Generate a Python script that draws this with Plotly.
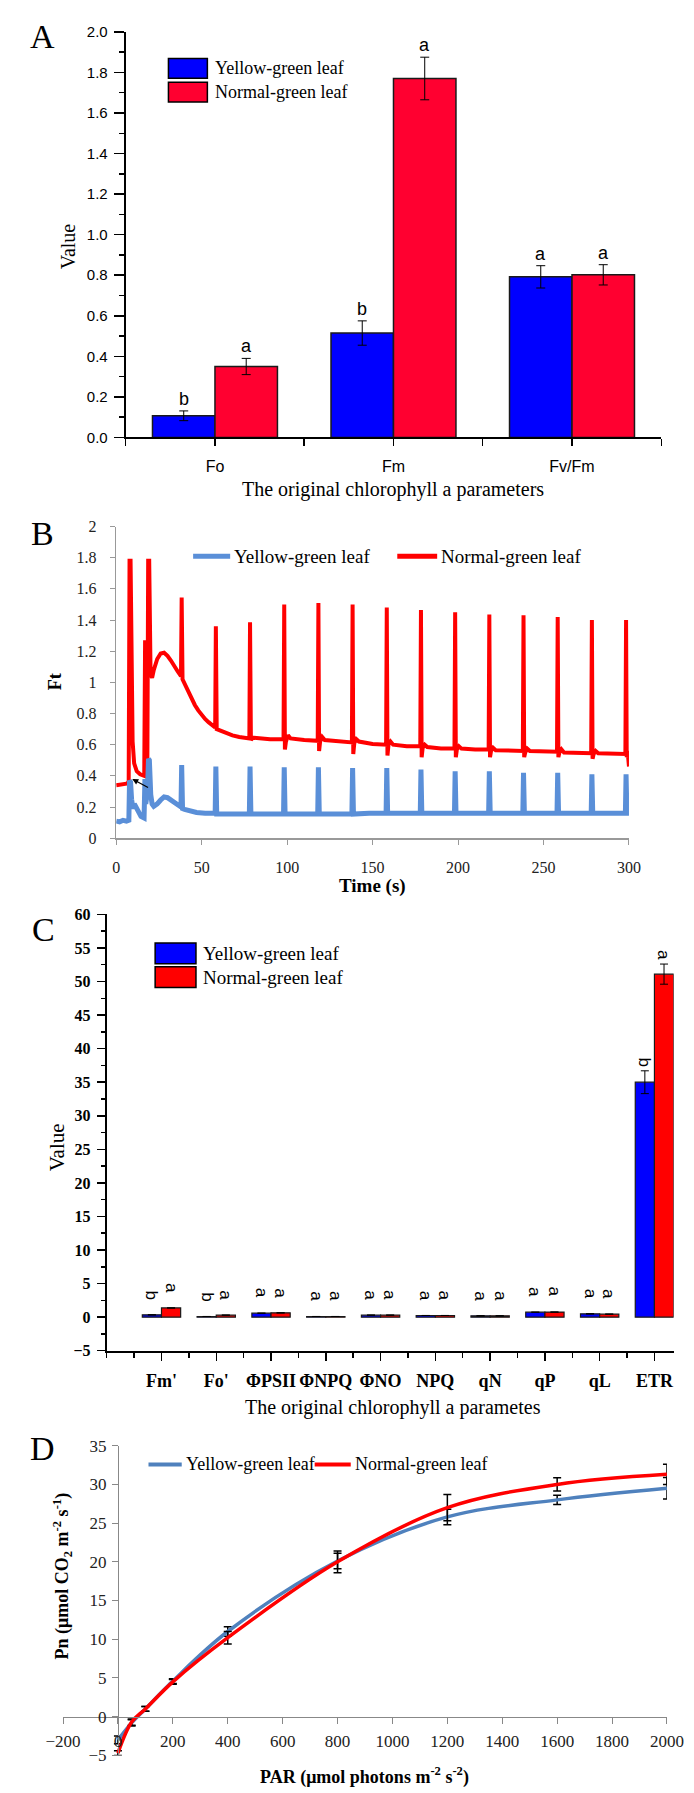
import plotly.graph_objects as go

W, H = 694, 1793
SERIF = "Liberation Serif, Times New Roman, serif"
SANS = "Liberation Sans, Arial, sans-serif"

# ---------------- Panel A data ----------------
a_params = ["Fo", "Fm", "Fv/Fm"]
a_yellow = [0.107, 0.515, 0.792]
a_yellow_err = [0.024, 0.060, 0.055]
a_normal = [0.350, 1.770, 0.802]
a_normal_err = [0.040, 0.105, 0.050]
a_yellow_sig = ["b", "b", "a"]
a_normal_sig = ["a", "a", "a"]

# ---------------- Panel B data (time s, Ft) ----------------
b_normal_points = [
    (0, 0.34), (2, 0.345), (4, 0.35), (6, 0.35), (7.3, 0.36), (7.8, 1.78), (8.4, 1.78),
    (9.0, 1.00), (9.6, 0.62), (10.5, 0.48), (12, 0.43), (14, 0.41), (16.4, 0.40),
    (16.9, 1.27), (17.4, 0.42), (18.2, 0.42), (18.7, 1.78), (19.3, 1.78), (20.1, 1.05),
    (21, 1.03), (22, 1.08), (24, 1.15), (26, 1.185), (28, 1.19), (30, 1.17), (32, 1.14),
    (34, 1.11), (36, 1.07), (37.9, 1.04), (38.3, 1.545), (38.8, 1.02), (40, 0.99),
    (42, 0.94), (44, 0.895), (46, 0.855), (48, 0.82), (50, 0.79), (52, 0.765),
    (54, 0.745), (56, 0.725), (57.9, 0.71), (58.3, 1.36), (58.8, 0.70), (61, 0.69),
    (64, 0.675), (68, 0.66), (72, 0.65), (77.9, 0.64), (78.3, 1.385), (78.8, 0.63),
    (80, 0.645), (85, 0.64), (90, 0.635), (97.9, 0.635), (98.3, 1.50), (98.7, 0.57),
    (99.3, 0.62), (100.5, 0.66), (102, 0.64), (110, 0.63), (117.9, 0.625), (118.3, 1.51),
    (118.7, 0.56), (119.3, 0.62), (120.5, 0.65), (122, 0.63), (130, 0.62), (137.9, 0.615),
    (138.3, 1.50), (138.7, 0.54), (139.3, 0.61), (140.5, 0.635), (142, 0.62), (150, 0.605),
    (157.9, 0.60), (158.3, 1.48), (158.7, 0.53), (159.3, 0.60), (160.5, 0.62), (162, 0.60),
    (170, 0.59), (177.9, 0.59), (178.3, 1.465), (178.7, 0.52), (179.3, 0.58), (180.5, 0.60),
    (182, 0.585), (190, 0.575), (197.9, 0.575), (198.3, 1.45), (198.7, 0.52), (199.3, 0.57),
    (200.5, 0.59), (202, 0.575), (210, 0.57), (217.9, 0.57), (218.3, 1.435), (218.7, 0.52),
    (219.3, 0.56), (220.5, 0.58), (222, 0.565), (230, 0.56), (237.9, 0.56), (238.3, 1.43),
    (238.7, 0.52), (239.3, 0.55), (240.5, 0.575), (242, 0.56), (250, 0.555), (257.9, 0.555),
    (258.3, 1.42), (258.7, 0.52), (259.3, 0.55), (260.5, 0.57), (262, 0.55), (270, 0.545),
    (277.9, 0.545), (278.3, 1.40), (278.7, 0.51), (279.3, 0.54), (280.5, 0.56), (282, 0.545),
    (290, 0.54), (297.9, 0.54), (298.3, 1.40), (298.7, 0.52), (299.2, 0.56), (300, 0.46),
]
b_yellow_points = [
    (0, 0.11), (2, 0.105), (4, 0.115), (6, 0.11), (7.4, 0.115), (7.8, 0.37), (8.4, 0.36),
    (9.0, 0.25), (9.8, 0.19), (10.6, 0.22), (11.5, 0.20), (13, 0.16), (14.5, 0.14),
    (16.3, 0.13), (16.8, 0.38), (17.3, 0.22), (18.3, 0.30), (18.9, 0.51), (19.4, 0.50),
    (20.2, 0.28), (21, 0.22), (22, 0.205), (24, 0.22), (26, 0.245), (28, 0.265), (30, 0.26),
    (32, 0.245), (34, 0.23), (36, 0.21), (37.9, 0.20), (38.3, 0.47), (38.8, 0.19),
    (40, 0.185), (43, 0.175), (47, 0.165), (52, 0.16), (57.9, 0.16), (58.3, 0.46),
    (58.8, 0.155), (68, 0.155), (77.9, 0.155), (78.3, 0.46), (78.8, 0.155), (88, 0.155),
    (97.9, 0.155), (98.3, 0.455), (98.8, 0.155), (108, 0.155), (117.9, 0.155), (118.3, 0.455),
    (118.8, 0.155), (128, 0.155), (137.9, 0.155), (138.3, 0.45), (138.8, 0.155), (148, 0.16),
    (157.9, 0.16), (158.3, 0.45), (158.8, 0.16), (168, 0.16), (177.9, 0.16), (178.3, 0.44),
    (178.8, 0.16), (188, 0.16), (197.9, 0.16), (198.3, 0.43), (198.8, 0.16), (208, 0.16),
    (217.9, 0.16), (218.3, 0.43), (218.8, 0.16), (228, 0.16), (237.9, 0.16), (238.3, 0.42),
    (238.8, 0.16), (248, 0.16), (257.9, 0.16), (258.3, 0.42), (258.8, 0.16), (268, 0.16),
    (277.9, 0.16), (278.3, 0.41), (278.8, 0.16), (288, 0.16), (297.9, 0.16), (298.3, 0.41),
    (298.8, 0.16), (300, 0.16),
]
b_time_ticks = [0, 50, 100, 150, 200, 250, 300]

# ---------------- Panel C data ----------------
c_params = ["Fm'", "Fo'", "ΦPSII", "ΦNPQ", "ΦNO", "NPQ", "qN", "qP", "qL", "ETR"]
c_yellow = [0.34, 0.10, 0.59, 0.10, 0.30, 0.25, 0.20, 0.74, 0.49, 35.0]
c_yellow_err = [0, 0, 0, 0, 0, 0, 0, 0, 0, 1.7]
c_normal = [1.37, 0.30, 0.64, 0.10, 0.30, 0.25, 0.20, 0.76, 0.45, 51.1]
c_normal_err = [0, 0, 0, 0, 0, 0, 0, 0, 0, 1.5]
c_yellow_sig = ["b", "b", "a", "a", "a", "a", "a", "a", "a", "b"]
c_normal_sig = ["a", "a", "a", "a", "a", "a", "a", "a", "a", "a"]

# ---------------- Panel D data ----------------
d_par = [0, 50, 100, 200, 400, 800, 1200, 1600, 2000]
d_yellow = [-3.0, -0.8, 1.0, 4.6, 11.0, 20.1, 25.8, 28.0, 29.5]
d_yellow_err = [0.5, 0.4, 0.3, 0.3, 0.6, 1.0, 1.0, 0.6, 1.4]
d_normal = [-4.7, -0.7, 1.0, 4.5, 10.2, 20.0, 27.0, 30.0, 31.3]
d_normal_err = [0.3, 0.4, 0.3, 0.3, 0.8, 1.4, 1.7, 0.85, 1.3]

# ---------------- helpers ----------------
def px(x):
    return x / W

def py(y):
    return 1 - y / H

def xdom(l, r):
    return [px(l), px(r)]

def ydom(t, b):
    return [py(b), py(t)]

BARGAP = 0.3
BW = (1 - BARGAP) / 2

fig = go.Figure()

# ---- Panel A bars
a_x = list(range(len(a_params)))
fig.add_trace(go.Bar(x=a_x, y=a_yellow, name="Yellow-green leaf",
                     error_y=dict(type="data", array=a_yellow_err, color="black", thickness=1, width=4.5),
                     marker=dict(color="#0000FF", line=dict(color="#1a1a1a", width=1.5)),
                     xaxis="x", yaxis="y", showlegend=False))
fig.add_trace(go.Bar(x=a_x, y=a_normal, name="Normal-green leaf",
                     error_y=dict(type="data", array=a_normal_err, color="black", thickness=1, width=4.5),
                     marker=dict(color="#FF0030", line=dict(color="#1a1a1a", width=1.5)),
                     xaxis="x", yaxis="y", showlegend=False))

# ---- Panel B lines
bn_t, bn_v = zip(*b_normal_points)
by_t, by_v = zip(*b_yellow_points)
fig.add_trace(go.Scatter(x=bn_t, y=bn_v, mode="lines", line=dict(color="#FF0000", width=4),
                         xaxis="x2", yaxis="y2", showlegend=False))
fig.add_trace(go.Scatter(x=by_t, y=by_v, mode="lines", line=dict(color="#5A8FD8", width=5),
                         xaxis="x2", yaxis="y2", showlegend=False))

# ---- Panel C bars
c_x = list(range(len(c_params)))
fig.add_trace(go.Bar(x=c_x, y=c_yellow, name="Yellow-green leaf",
                     error_y=dict(type="data", array=c_yellow_err, color="black", thickness=1, width=4),
                     marker=dict(color="#0000FF", line=dict(color="#1a1a1a", width=1.2)),
                     xaxis="x3", yaxis="y3", showlegend=False))
fig.add_trace(go.Bar(x=c_x, y=c_normal, name="Normal-green leaf",
                     error_y=dict(type="data", array=c_normal_err, color="black", thickness=1, width=4),
                     marker=dict(color="#FF0000", line=dict(color="#1a1a1a", width=1.2)),
                     xaxis="x3", yaxis="y3", showlegend=False))

# ---- Panel D lines
fig.add_trace(go.Scatter(x=d_par, y=d_yellow, mode="lines", line=dict(color="#4F81BD", width=3.5, shape="spline"),
                         error_y=dict(type="data", array=d_yellow_err, color="black", thickness=1.5, width=4),
                         xaxis="x4", yaxis="y4", showlegend=False))
fig.add_trace(go.Scatter(x=d_par, y=d_normal, mode="lines", line=dict(color="#FF0000", width=3.5, shape="spline"),
                         error_y=dict(type="data", array=d_normal_err, color="black", thickness=1.5, width=4),
                         xaxis="x4", yaxis="y4", showlegend=False))

# ---------------- axes ----------------
A_X, A_Y = xdom(105, 669), ydom(15, 425)
B_X, B_Y = xdom(95, 635), ydom(515, 830)
C_X, C_Y = xdom(85, 682), ydom(907, 1348)
D_X, D_Y = xdom(39, 675), ydom(1444, 1757)
D_XR, D_YR = [-200, 2000], [-5, 35]

common = dict(showgrid=False, zeroline=False, fixedrange=True, showline=True)

layout_axes = dict(
    xaxis=dict(domain=A_X, anchor="y", range=[-0.5, len(a_params) - 0.5],
               tickmode="array", tickvals=a_x, ticktext=a_params,
               ticks="outside", ticklen=7, tickwidth=1.5, tickcolor="black",
               minor=dict(tickmode="array", tickvals=[i - 0.5 for i in range(len(a_params) + 1)],
                          ticks="outside", ticklen=7, tickwidth=1.5, tickcolor="black"),
               linecolor="black", linewidth=2, ticklabelstandoff=6,
               tickfont=dict(family=SANS, size=16, color="black"), **common),
    yaxis=dict(domain=A_Y, anchor="x", range=[0, 2], dtick=0.2, tickformat=".1f",
               ticks="outside", ticklen=10, tickwidth=1.5, tickcolor="black",
               minor=dict(dtick=0.1, ticks="outside", ticklen=5, tickwidth=1.5, tickcolor="black"),
               linecolor="black", linewidth=2, ticklabelstandoff=3,
               tickfont=dict(family=SANS, size=15, color="black"), **common),
    xaxis2=dict(domain=B_X, anchor="y2", range=[0, 300], tickmode="array", tickvals=b_time_ticks,
                ticks="outside", ticklen=5, tickcolor="#999999", linecolor="#999999", linewidth=1.5,
                ticklabelstandoff=9, tickfont=dict(family=SERIF, size=16, color="#222222"), **common),
    yaxis2=dict(domain=B_Y, anchor="x2", range=[0, 2], dtick=0.2,
                ticks="outside", ticklen=5, tickcolor="#999999", linecolor="#999999", linewidth=1.5,
                ticklabelstandoff=10, tickfont=dict(family=SERIF, size=16, color="#222222"), **common),
    xaxis3=dict(domain=C_X, anchor="y3", range=[-1, len(c_params) - 1 + BW],
                tickmode="array", tickvals=c_x, ticktext=c_params,
                ticks="outside", ticklen=8, tickwidth=1.5, tickcolor="black",
                minor=dict(tickmode="array", tickvals=[i - 0.5 for i in range(-1, len(c_params))] + [-1],
                           ticks="outside", ticklen=5, tickwidth=1.5, tickcolor="black"),
                linecolor="black", linewidth=2, ticklabelstandoff=5,
                tickfont=dict(family=SERIF, size=18, color="black", weight="bold"), **common),
    yaxis3=dict(domain=C_Y, anchor="x3", range=[-5, 60], dtick=5,
                ticks="outside", ticklen=8, tickwidth=1.5, tickcolor="black",
                minor=dict(dtick=2.5, ticks="outside", ticklen=4, tickwidth=1.5, tickcolor="black"),
                linecolor="black", linewidth=2, ticklabelstandoff=3,
                tickfont=dict(family=SERIF, size=16, color="black", weight="bold"), **common),
    xaxis4=dict(domain=D_X, anchor="free",
                position=D_Y[0] + (0 - D_YR[0]) / (D_YR[1] - D_YR[0]) * (D_Y[1] - D_Y[0]),
                range=D_XR, dtick=200, ticks="outside", ticklen=6, tickcolor="#888888",
                linecolor="#888888", linewidth=1.5, ticklabelstandoff=2,
                tickfont=dict(family=SERIF, size=17, color="#222222"), **common),
    yaxis4=dict(domain=D_Y, anchor="free",
                position=D_X[0] + (0 - D_XR[0]) / (D_XR[1] - D_XR[0]) * (D_X[1] - D_X[0]),
                range=D_YR, dtick=5, ticks="outside", ticklen=6, tickcolor="#888888",
                linecolor="#888888", linewidth=1.5, ticklabelstandoff=2,
                tickfont=dict(family=SERIF, size=17, color="#222222"), **common),
)

annotations = []
shapes = []

def paper_text(text, x, y, size, family=SERIF, angle=0, xanchor="center", bold=False, color="black"):
    annotations.append(dict(text=text, x=px(x), y=py(y), xref="paper", yref="paper",
                            xanchor=xanchor, yanchor="middle", showarrow=False, textangle=angle,
                            font=dict(family=family, size=size, color=color,
                                      weight="bold" if bold else "normal")))

# panel letters
paper_text("A", 17, 20, 34)
paper_text("B", 17, 522, 34)
paper_text("C", 18, 922, 34)
paper_text("D", 17, 1447, 34)

# axis titles
paper_text("Value", 44, 232, 20, angle=-90)
paper_text("The original chlorophyll a parameters", 387, 478, 20)
paper_text("Ft", 30, 672, 18, angle=-90, bold=True)
paper_text("Time (s)", 365, 878, 19, bold=True)
paper_text("Value", 33, 1142, 21, angle=-90)
paper_text("The original chlorophyll a parametes", 387, 1405, 20)
paper_text("Pn (μmol CO<sub>2</sub> m<sup>-2</sup> s<sup>-1</sup>)", 38, 1576, 18, angle=-90, bold=True)
paper_text("PAR (μmol photons m<sup>-2</sup> s<sup>-2</sup>)", 357, 1778, 18, bold=True)

# significance letters
for i in a_x:
    for off, v, e, s in ((-BW / 2, a_yellow[i], a_yellow_err[i], a_yellow_sig[i]),
                         (BW / 2, a_normal[i], a_normal_err[i], a_normal_sig[i])):
        annotations.append(dict(text=s, x=i + off, y=v + e, xref="x", yref="y", xanchor="center",
                                yanchor="bottom", yshift=0, showarrow=False,
                                font=dict(family=SANS, size=18, color="black")))
for i in c_x:
    for off, v, e, s in ((-BW / 2, c_yellow[i], c_yellow_err[i], c_yellow_sig[i]),
                         (BW / 2, c_normal[i], c_normal_err[i], c_normal_sig[i])):
        annotations.append(dict(text=s, x=i + off, y=v + e, xref="x3", yref="y3", xanchor="center",
                                yanchor="bottom", yshift=2 if e > 0 else 13, showarrow=False, textangle=90,
                                font=dict(family=SANS, size=17, color="black")))

# arrow in panel B
annotations.append(dict(x=9.4, y=0.38, ax=19.5, ay=0.32, xref="x2", yref="y2", axref="x2", ayref="y2",
                        showarrow=True, arrowhead=2, arrowsize=1, arrowwidth=1.2, arrowcolor="black", text=""))

# legends (drawn manually)
def box_legend(x0, x1, y_top, h, gap, tx, size, colors, labels):
    for k, (c, lab) in enumerate(zip(colors, labels)):
        t = y_top + k * (h + gap)
        shapes.append(dict(type="rect", xref="paper", yref="paper", x0=px(x0), x1=px(x1),
                           y0=py(t + h), y1=py(t), fillcolor=c, line=dict(color="black", width=1.5)))
        paper_text(lab, tx, t + h / 2, size, xanchor="left")

def line_legend(items, y, size, width):
    for (x0, x1, c, lab) in items:
        shapes.append(dict(type="line", xref="paper", yref="paper", x0=px(x0), x1=px(x1),
                           y0=py(y), y1=py(y), line=dict(color=c, width=width)))
        paper_text(lab, x1 + 2, y, size, xanchor="left")

legend_labels = ["Yellow-green leaf", "Normal-green leaf"]
box_legend(150, 191, 42, 20, 4, 197, 18, ["#0000FF", "#FF0030"], legend_labels)
box_legend(136, 179, 936, 21, 3, 184, 19, ["#0000FF", "#FF0000"], legend_labels)
line_legend([(176, 215, "#5A8FD8", legend_labels[0]), (391, 433, "#FF0000", legend_labels[1])], 545, 19, 5)
line_legend([(129, 164, "#4F81BD", legend_labels[0]), (304, 342, "#FF0000", legend_labels[1])], 1463, 18, 4)

fig.update_layout(
    width=W, height=H, autosize=False,
    margin=dict(l=0, r=0, t=0, b=0),
    paper_bgcolor="white", plot_bgcolor="white",
    barmode="group", bargap=BARGAP, bargroupgap=0,
    hovermode=False, showlegend=False,
    annotations=annotations, shapes=shapes,
    **layout_axes,
)

fig.write_html("out.html", config={"displayModeBar": False, "staticPlot": True})
